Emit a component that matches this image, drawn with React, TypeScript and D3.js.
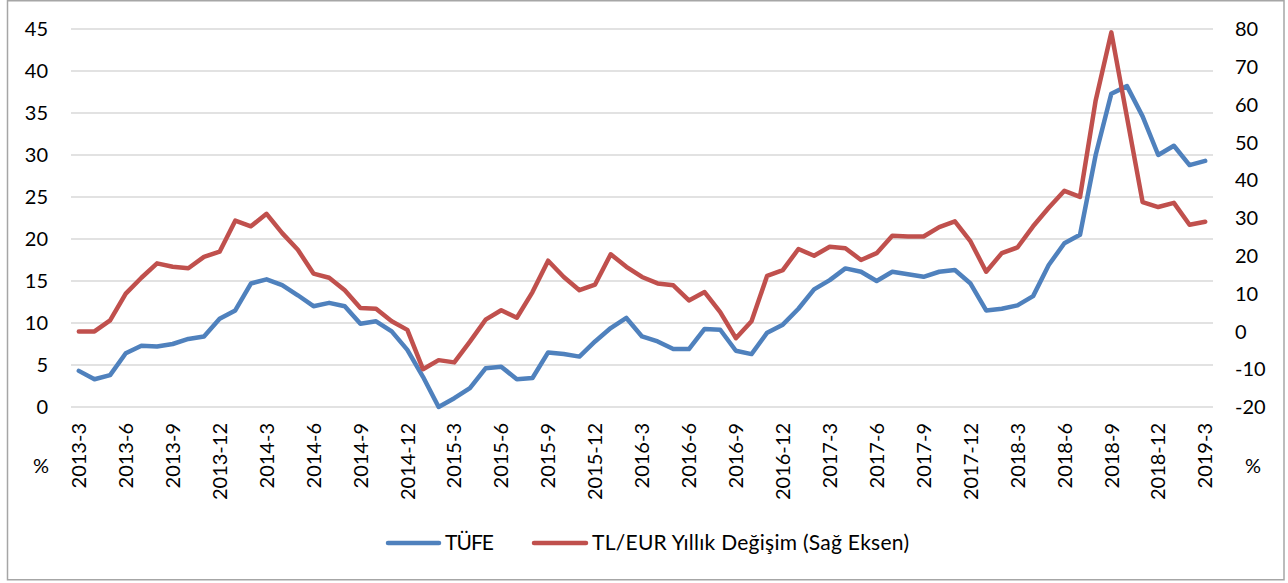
import React from "react";
import * as d3 from "d3";

const categories: string[] = [
  "2013-3","2013-4","2013-5","2013-6","2013-7","2013-8","2013-9","2013-10","2013-11","2013-12",
  "2014-1","2014-2","2014-3","2014-4","2014-5","2014-6","2014-7","2014-8","2014-9","2014-10","2014-11","2014-12",
  "2015-1","2015-2","2015-3","2015-4","2015-5","2015-6","2015-7","2015-8","2015-9","2015-10","2015-11","2015-12",
  "2016-1","2016-2","2016-3","2016-4","2016-5","2016-6","2016-7","2016-8","2016-9","2016-10","2016-11","2016-12",
  "2017-1","2017-2","2017-3","2017-4","2017-5","2017-6","2017-7","2017-8","2017-9","2017-10","2017-11","2017-12",
  "2018-1","2018-2","2018-3","2018-4","2018-5","2018-6","2018-7","2018-8","2018-9","2018-10","2018-11","2018-12",
  "2019-1","2019-2","2019-3",
];

// TÜFE (left axis, %)
const tufe: number[] = [
  4.3, 3.3, 3.8, 6.4, 7.3, 7.2, 7.5, 8.1, 8.4, 10.5,
  11.5, 14.7, 15.2, 14.5, 13.3, 12.0, 12.4, 12.0, 9.9, 10.2, 9.0, 6.8,
  3.6, 0.0, 1.05, 2.25, 4.6, 4.8, 3.3, 3.45, 6.5, 6.3, 6.0, 7.8,
  9.4, 10.6, 8.4, 7.8, 6.9, 6.9, 9.3, 9.2, 6.7, 6.3, 8.85, 9.8,
  11.7, 14.0, 15.1, 16.5, 16.1, 15.0, 16.1, 15.8, 15.5, 16.1, 16.3, 14.7,
  11.5, 11.7, 12.1, 13.2, 16.9, 19.5, 20.5, 30.0, 37.3, 38.2, 34.6, 30.0,
  31.1, 28.8, 29.3,
];

// TL/EUR annual change (right axis, %)
const tlEur: number[] = [
  0.0, 0.0, 2.9, 10.0, 14.2, 18.0, 17.1, 16.7, 19.7, 21.1,
  29.3, 27.8, 31.1, 26.0, 21.6, 15.3, 14.2, 10.9, 6.2, 6.0, 2.7, 0.4,
  -10.0, -7.6, -8.2, -2.7, 3.1, 5.6, 3.6, 10.4, 18.7, 14.4, 10.9, 12.4,
  20.4, 17.1, 14.4, 12.7, 12.2, 8.2, 10.4, 5.1, -1.8, 2.7, 14.7, 16.2,
  21.8, 20.0, 22.4, 22.0, 18.9, 20.7, 25.3, 25.1, 25.1, 27.6, 29.1, 23.8,
  15.8, 20.7, 22.2, 27.8, 32.7, 37.2, 35.6, 61.1, 79.1, 56.7, 34.2, 32.9,
  34.0, 28.2, 29.0,
];

const leftTicks: number[] = [0, 5, 10, 15, 20, 25, 30, 35, 40, 45];
const rightTicks: number[] = [-20, -10, 0, 10, 20, 30, 40, 50, 60, 70, 80];
const seriesNames: string[] = ["TÜFE", "TL/EUR Yıllık Değişim (Sağ Eksen)"];
const unitLabel = "%";

const W = 1288;
const H = 583;
const plotL = 71;
const plotR = 1213;
const plotT = 29;
const plotB = 407;
const FONT = "Lato, 'Open Sans', sans-serif";
const BLUE = "#4f81bd";
const RED = "#c0504d";

export default function App() {
  const idx = categories.map((_, i) => i);
  const x = d3.scalePoint<number>().domain(idx).range([plotL, plotR]).padding(0.5);
  const yL = d3.scaleLinear().domain([0, 45]).range([plotB, plotT]);
  const yR = d3.scaleLinear().domain([-20, 80]).range([plotB, plotT]);

  const lineL = d3
    .line<number>()
    .x((_, i) => x(i) as number)
    .y((d) => yL(d));
  const lineR = d3
    .line<number>()
    .x((_, i) => x(i) as number)
    .y((d) => yR(d));

  const labelIdx = idx.filter((i) => i % 3 === 0);

  return (
    <div style={{ position: "absolute", left: 0, top: 0 }}>
      <svg width={W} height={H} style={{ display: "block", background: "#fff" }} fontFamily={FONT}>
        <rect x={7.5} y={0.75} width={1276.5} height={579} fill="#fff" stroke="#a6a6a6" strokeWidth={1.5} />
        {leftTicks.map((t) => (
          <line key={"g" + t} x1={plotL} x2={plotR} y1={yL(t)} y2={yL(t)} stroke="#d9d9d9" strokeWidth={1.3} />
        ))}
        {leftTicks.map((t) => (
          <text key={"l" + t} x={48} y={yL(t)} dy="0.36em" textAnchor="end" fontSize={20} fill="#000">
            {t}
          </text>
        ))}
        {rightTicks.map((t) => (
          <text key={"r" + t} x={1235} y={yR(t)} dy="0.36em" textAnchor="start" fontSize={20} fill="#000">
            {t}
          </text>
        ))}
        {labelIdx.map((i) => (
          <text
            key={"x" + i}
            transform={`translate(${x(i)},423) rotate(-90)`}
            dy="0.36em"
            textAnchor="end"
            fontSize={20}
            fill="#000"
          >
            {categories[i]}
          </text>
        ))}
        <text x={41} y={473} textAnchor="middle" fontSize={20} fill="#000">{unitLabel}</text>
        <text x={1253} y={473} textAnchor="middle" fontSize={20} fill="#000">{unitLabel}</text>

        <path d={lineL(tufe) || ""} fill="none" stroke={BLUE} strokeWidth={4.5} strokeLinejoin="round" strokeLinecap="round" />
        <path d={lineR(tlEur) || ""} fill="none" stroke={RED} strokeWidth={4.5} strokeLinejoin="round" strokeLinecap="round" />

        <line x1={388} x2={439} y1={543} y2={543} stroke={BLUE} strokeWidth={4.5} strokeLinecap="round" />
        <text x={445} y={550} fontSize={21} textLength={49} lengthAdjust="spacing" fill="#000">{seriesNames[0]}</text>
        <line x1={534} x2={586} y1={543} y2={543} stroke={RED} strokeWidth={4.5} strokeLinecap="round" />
        <text x={592} y={550} fontSize={21} textLength={317} lengthAdjust="spacing" fill="#000">{seriesNames[1]}</text>
      </svg>
    </div>
  );
}
